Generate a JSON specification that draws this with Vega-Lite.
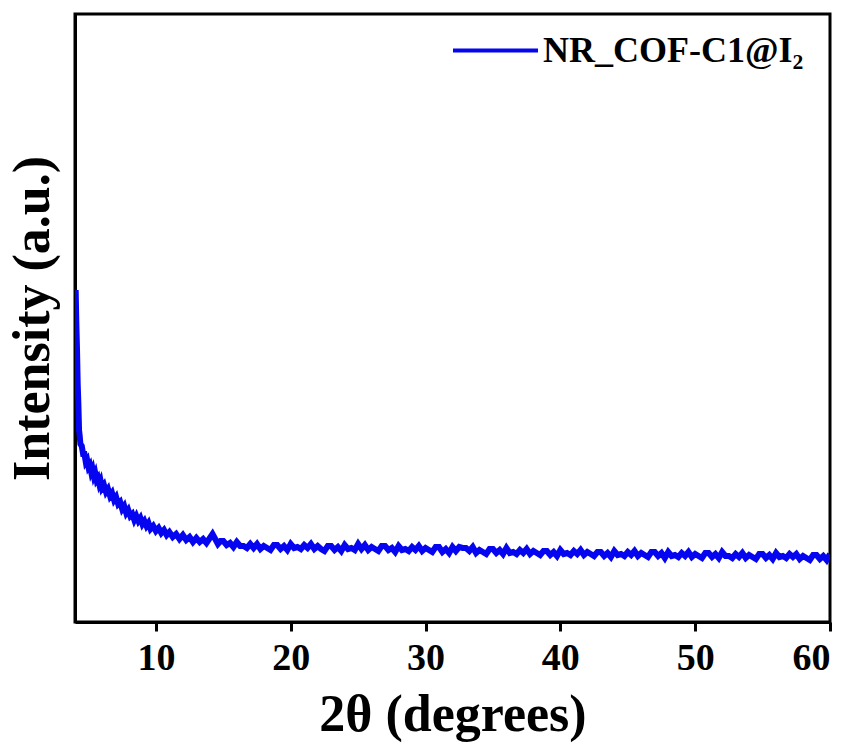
{
  "$schema": "https://vega.github.io/schema/vega-lite/v6.json",
  "width": 755,
  "height": 608,
  "autosize": {"type": "none"},
  "padding": {"left": 75, "top": 14, "right": 29, "bottom": 126},
  "background": "white",
  "config": {
    "view": {"stroke": "black", "strokeWidth": 3},
    "font": "Liberation Serif"
  },
  "data": {"values": [
    {"x": 4.05, "y": 332}, {"x": 4.1, "y": 298}, {"x": 4.15, "y": 272}, {"x": 4.2, "y": 238},
    {"x": 4.25, "y": 218}, {"x": 4.3, "y": 192}, {"x": 4.35, "y": 186}, {"x": 4.4, "y": 178},
    {"x": 4.5, "y": 176}, {"x": 4.6, "y": 168}, {"x": 4.7, "y": 168}, {"x": 4.8, "y": 160},
    {"x": 4.9, "y": 162}, {"x": 5.0, "y": 155}, {"x": 5.1, "y": 157}, {"x": 5.2, "y": 150},
    {"x": 5.3, "y": 153}, {"x": 5.4, "y": 146}, {"x": 5.5, "y": 149}, {"x": 5.6, "y": 142},
    {"x": 5.7, "y": 144}, {"x": 5.8, "y": 138}, {"x": 5.9, "y": 141}, {"x": 6.0, "y": 134},
    {"x": 6.15, "y": 137}, {"x": 6.3, "y": 130}, {"x": 6.45, "y": 133}, {"x": 6.6, "y": 126},
    {"x": 6.75, "y": 129}, {"x": 6.9, "y": 122}, {"x": 7.05, "y": 125}, {"x": 7.2, "y": 118},
    {"x": 7.35, "y": 120}, {"x": 7.5, "y": 113}, {"x": 7.65, "y": 116}, {"x": 7.8, "y": 109},
    {"x": 7.95, "y": 112}, {"x": 8.1, "y": 106}, {"x": 8.25, "y": 108}, {"x": 8.4, "y": 102},
    {"x": 8.55, "y": 106}, {"x": 8.7, "y": 101}, {"x": 8.85, "y": 104}, {"x": 9.0, "y": 98},
    {"x": 9.15, "y": 101}, {"x": 9.3, "y": 96}, {"x": 9.45, "y": 99}, {"x": 9.6, "y": 93},
    {"x": 9.8, "y": 96}, {"x": 10.0, "y": 91}, {"x": 10.2, "y": 94}, {"x": 10.4, "y": 89},
    {"x": 10.6, "y": 92}, {"x": 10.8, "y": 87}, {"x": 11.0, "y": 90}, {"x": 11.25, "y": 85},
    {"x": 11.5, "y": 88}, {"x": 11.75, "y": 83}, {"x": 12.0, "y": 87}, {"x": 12.25, "y": 82},
    {"x": 12.5, "y": 85}, {"x": 12.75, "y": 80}, {"x": 13.0, "y": 84}, {"x": 13.25, "y": 80},
    {"x": 13.5, "y": 83}, {"x": 13.75, "y": 79}, {"x": 14.0, "y": 84}, {"x": 14.2, "y": 88},
    {"x": 14.4, "y": 83}, {"x": 14.6, "y": 78}, {"x": 14.8, "y": 81},
    {"x": 15.0, "y": 81}, {"x": 15.25, "y": 77}, {"x": 15.5, "y": 79}, {"x": 15.75, "y": 75},
    {"x": 16.0, "y": 80}, {"x": 16.25, "y": 76}, {"x": 16.5, "y": 76}, {"x": 16.75, "y": 74},
    {"x": 17.0, "y": 78}, {"x": 17.25, "y": 74}, {"x": 17.5, "y": 78}, {"x": 17.75, "y": 73},
    {"x": 18.0, "y": 76}, {"x": 18.25, "y": 74}, {"x": 18.5, "y": 72}, {"x": 18.75, "y": 77},
    {"x": 19.0, "y": 77}, {"x": 19.25, "y": 73}, {"x": 19.5, "y": 76}, {"x": 19.75, "y": 72},
    {"x": 20.0, "y": 78}, {"x": 20.25, "y": 74}, {"x": 20.5, "y": 75}, {"x": 20.75, "y": 73},
    {"x": 21.0, "y": 77}, {"x": 21.25, "y": 74}, {"x": 21.5, "y": 78}, {"x": 21.75, "y": 73},
    {"x": 22.0, "y": 76}, {"x": 22.25, "y": 73}, {"x": 22.5, "y": 71}, {"x": 22.75, "y": 76},
    {"x": 23.0, "y": 76}, {"x": 23.25, "y": 72}, {"x": 23.5, "y": 75}, {"x": 23.75, "y": 71},
    {"x": 24.0, "y": 77}, {"x": 24.25, "y": 73}, {"x": 24.5, "y": 74}, {"x": 24.75, "y": 72},
    {"x": 25.0, "y": 78}, {"x": 25.25, "y": 73}, {"x": 25.5, "y": 77}, {"x": 25.75, "y": 72},
    {"x": 26.0, "y": 75}, {"x": 26.25, "y": 73}, {"x": 26.5, "y": 71}, {"x": 26.75, "y": 76},
    {"x": 27.0, "y": 76}, {"x": 27.25, "y": 72}, {"x": 27.5, "y": 74}, {"x": 27.75, "y": 70},
    {"x": 28.0, "y": 76}, {"x": 28.25, "y": 72}, {"x": 28.5, "y": 73}, {"x": 28.75, "y": 71},
    {"x": 29.0, "y": 75}, {"x": 29.25, "y": 72}, {"x": 29.5, "y": 76}, {"x": 29.75, "y": 71},
    {"x": 30.0, "y": 74}, {"x": 30.25, "y": 72}, {"x": 30.5, "y": 70}, {"x": 30.75, "y": 75},
    {"x": 31.0, "y": 75}, {"x": 31.25, "y": 70}, {"x": 31.5, "y": 73}, {"x": 31.75, "y": 69},
    {"x": 32.0, "y": 75}, {"x": 32.25, "y": 71}, {"x": 32.5, "y": 75}, {"x": 32.75, "y": 74},
    {"x": 33.0, "y": 74}, {"x": 33.25, "y": 71}, {"x": 33.5, "y": 75}, {"x": 33.75, "y": 69},
    {"x": 34.0, "y": 72}, {"x": 34.25, "y": 70}, {"x": 34.5, "y": 68}, {"x": 34.75, "y": 73},
    {"x": 35.0, "y": 73}, {"x": 35.25, "y": 69}, {"x": 35.5, "y": 72}, {"x": 35.75, "y": 68},
    {"x": 36.0, "y": 74}, {"x": 36.25, "y": 69}, {"x": 36.5, "y": 70}, {"x": 36.75, "y": 68},
    {"x": 37.0, "y": 72}, {"x": 37.25, "y": 69}, {"x": 37.5, "y": 73}, {"x": 37.75, "y": 68},
    {"x": 38.0, "y": 71}, {"x": 38.25, "y": 69}, {"x": 38.5, "y": 67}, {"x": 38.75, "y": 71},
    {"x": 39.0, "y": 71}, {"x": 39.25, "y": 67}, {"x": 39.5, "y": 70}, {"x": 39.75, "y": 66},
    {"x": 40.0, "y": 72}, {"x": 40.25, "y": 68}, {"x": 40.5, "y": 69}, {"x": 40.75, "y": 67},
    {"x": 41.0, "y": 71}, {"x": 41.25, "y": 68}, {"x": 41.5, "y": 72}, {"x": 41.75, "y": 67},
    {"x": 42.0, "y": 70}, {"x": 42.25, "y": 68}, {"x": 42.5, "y": 66}, {"x": 42.75, "y": 70},
    {"x": 43.0, "y": 70}, {"x": 43.25, "y": 66}, {"x": 43.5, "y": 69}, {"x": 43.75, "y": 65},
    {"x": 44.0, "y": 71}, {"x": 44.25, "y": 67}, {"x": 44.5, "y": 68}, {"x": 44.75, "y": 66},
    {"x": 45.0, "y": 70}, {"x": 45.25, "y": 67}, {"x": 45.5, "y": 71}, {"x": 45.75, "y": 66},
    {"x": 46.0, "y": 69}, {"x": 46.25, "y": 67}, {"x": 46.5, "y": 65}, {"x": 46.75, "y": 70},
    {"x": 47.0, "y": 70}, {"x": 47.25, "y": 66}, {"x": 47.5, "y": 69}, {"x": 47.75, "y": 64},
    {"x": 48.0, "y": 70}, {"x": 48.25, "y": 66}, {"x": 48.5, "y": 67}, {"x": 48.75, "y": 65},
    {"x": 49.0, "y": 69}, {"x": 49.25, "y": 66}, {"x": 49.5, "y": 70}, {"x": 49.75, "y": 65},
    {"x": 50.0, "y": 68}, {"x": 50.25, "y": 66}, {"x": 50.5, "y": 64}, {"x": 50.75, "y": 69},
    {"x": 51.0, "y": 69}, {"x": 51.25, "y": 65}, {"x": 51.5, "y": 68}, {"x": 51.75, "y": 64},
    {"x": 52.0, "y": 70}, {"x": 52.25, "y": 66}, {"x": 52.5, "y": 66}, {"x": 52.75, "y": 64},
    {"x": 53.0, "y": 68}, {"x": 53.25, "y": 65}, {"x": 53.5, "y": 69}, {"x": 53.75, "y": 64},
    {"x": 54.0, "y": 67}, {"x": 54.25, "y": 65}, {"x": 54.5, "y": 63}, {"x": 54.75, "y": 68},
    {"x": 55.0, "y": 68}, {"x": 55.25, "y": 64}, {"x": 55.5, "y": 67}, {"x": 55.75, "y": 63},
    {"x": 56.0, "y": 69}, {"x": 56.25, "y": 65}, {"x": 56.5, "y": 66}, {"x": 56.75, "y": 64},
    {"x": 57.0, "y": 68}, {"x": 57.25, "y": 65}, {"x": 57.5, "y": 68}, {"x": 57.75, "y": 63},
    {"x": 58.0, "y": 66}, {"x": 58.25, "y": 64}, {"x": 58.5, "y": 62}, {"x": 58.75, "y": 67},
    {"x": 59.0, "y": 67}, {"x": 59.25, "y": 63}, {"x": 59.5, "y": 66}, {"x": 59.75, "y": 62},
    {"x": 60.0, "y": 68}
  ]},
  "mark": {"type": "line", "strokeWidth": 6, "clip": true, "interpolate": "linear"},
  "encoding": {
    "x": {
      "field": "x", "type": "quantitative",
      "scale": {"domain": [4, 60], "nice": false, "zero": false},
      "axis": {
        "values": [10, 20, 30, 40, 50, 60],
        "title": "2θ (degrees)",
        "titleFont": "Liberation Serif", "titleFontSize": 52, "titleFontWeight": "bold",
        "titleColor": "black", "titlePadding": 12,
        "labelFont": "Liberation Serif", "labelFontSize": 38, "labelFontWeight": "bold",
        "labelColor": "black", "labelPadding": 8,
        "domainColor": "black", "domainWidth": 3,
        "tickColor": "black", "tickWidth": 3, "tickSize": 9,
        "grid": false
      }
    },
    "y": {
      "field": "y", "type": "quantitative",
      "scale": {"domain": [0, 608], "nice": false},
      "axis": {
        "title": "Intensity (a.u.)",
        "titleFont": "Liberation Serif", "titleFontSize": 52, "titleFontWeight": "bold",
        "titleColor": "black", "titlePadding": 16,
        "labels": false, "ticks": false,
        "domainColor": "black", "domainWidth": 3,
        "grid": false
      }
    },
    "color": {
      "datum": "NR_COF-C1@I₂",
      "type": "nominal",
      "scale": {"range": ["#0505f0"]},
      "legend": {
        "title": null,
        "orient": "none", "legendX": 376, "legendY": -8,
        "symbolType": "stroke", "symbolSize": 7225, "symbolStrokeWidth": 4,
        "labelFont": "Liberation Serif", "labelFontSize": 36, "labelFontWeight": "bold",
        "labelColor": "black", "labelOffset": 3, "labelLimit": 400
      }
    }
  }
}
